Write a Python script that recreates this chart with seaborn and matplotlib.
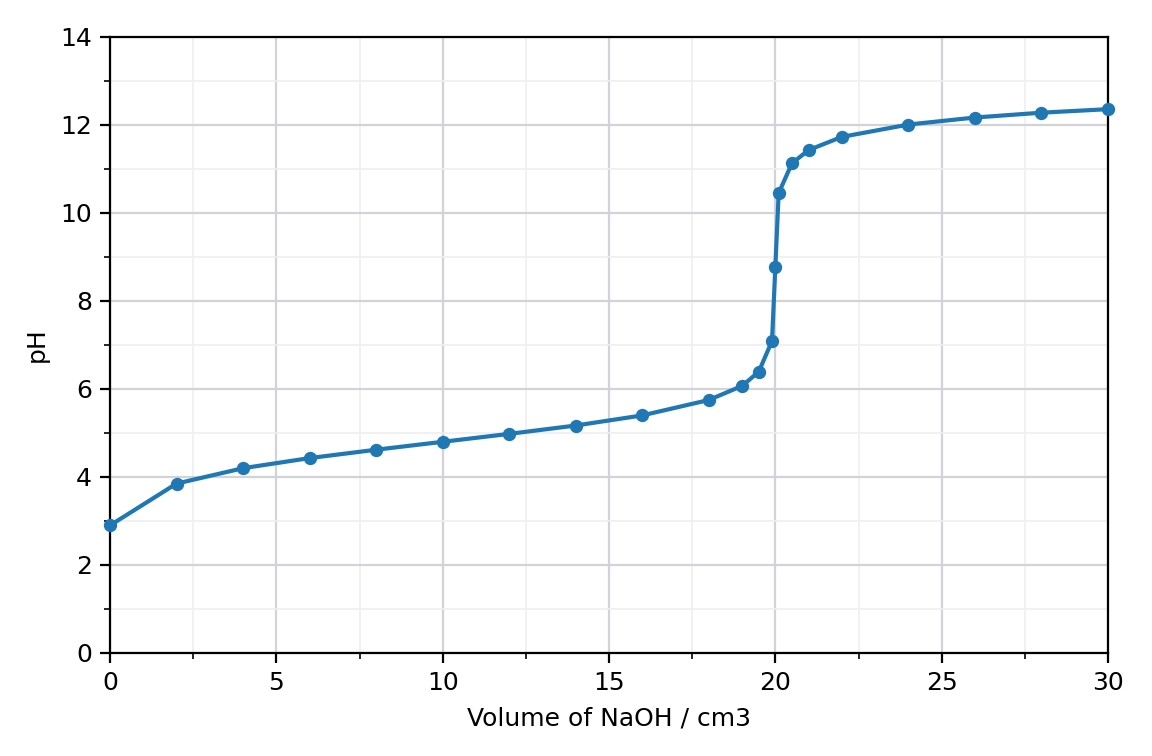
import matplotlib
matplotlib.use("Agg")
import matplotlib.pyplot as plt
import seaborn as sns
import pandas as pd
from matplotlib.ticker import MultipleLocator

volume = [0, 2, 4, 6, 8, 10, 12, 14, 16, 18, 19, 19.5, 19.9, 20, 20.1, 20.5, 21, 22, 24, 26, 28, 30]
ph = [2.9, 3.85, 4.2, 4.43, 4.62, 4.8, 4.98, 5.17, 5.4, 5.75, 6.07, 6.39, 7.09, 8.77, 10.45, 11.13, 11.43, 11.73, 12.01, 12.17, 12.28, 12.36]

df = pd.DataFrame({"volume": volume, "ph": ph})

sns.set_theme(style="ticks")
plt.rcParams['font.family'] = ['DejaVu Sans']
plt.rcParams['text.color'] = 'black'
plt.rcParams['axes.labelcolor'] = 'black'
plt.rcParams['xtick.color'] = 'black'
plt.rcParams['ytick.color'] = 'black'

fig, ax = plt.subplots(figsize=(5.76, 3.78), dpi=200)
sns.lineplot(data=df, x="volume", y="ph", ax=ax, color="#1f77b4", linewidth=1.5,
             marker="o", markersize=4.8, markeredgewidth=0, clip_on=False, zorder=3)

ax.set_xlim(0, 30)
ax.set_ylim(0, 14)
ax.xaxis.set_major_locator(MultipleLocator(5))
ax.xaxis.set_minor_locator(MultipleLocator(2.5))
ax.yaxis.set_major_locator(MultipleLocator(2))
ax.yaxis.set_minor_locator(MultipleLocator(1))
ax.grid(which="major", color="#d2d3d8", linewidth=0.8)
ax.grid(which="minor", color="#efeff2", linewidth=0.6)
ax.set_axisbelow(True)
for s in ax.spines.values():
    s.set_visible(True)
    s.set_color("black")
    s.set_linewidth(0.8)
ax.tick_params(which="major", length=3.5, width=0.8, colors="black", labelsize=9, pad=3)
ax.tick_params(which="minor", length=2, width=0.6, colors="black")
ax.set_xlabel("Volume of NaOH / cm3", fontsize=9, color="black")
ax.set_ylabel("pH", fontsize=9, color="black")

fig.subplots_adjust(left=110/1152, right=1108/1152, top=1-37/756, bottom=1-653/756)
fig.savefig("out.png", dpi=200)
